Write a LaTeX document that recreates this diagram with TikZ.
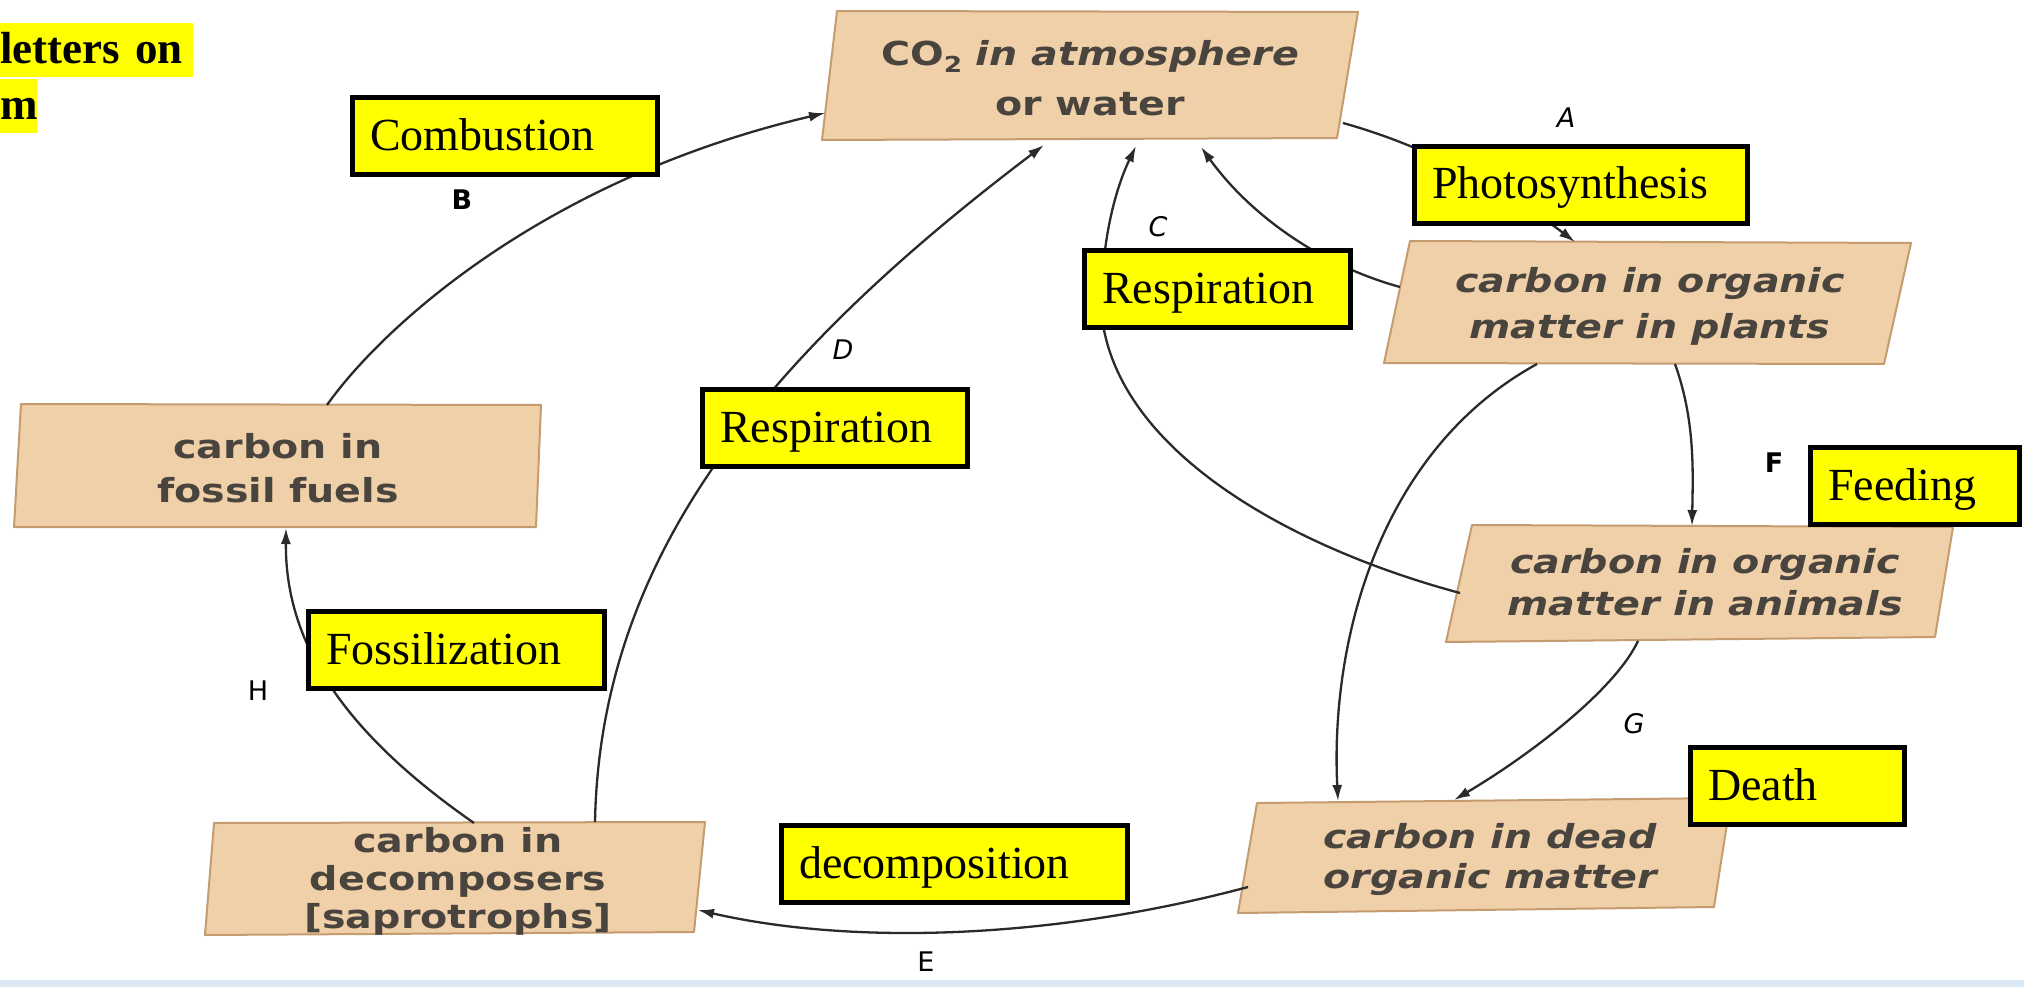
\documentclass[tikz,border=0pt]{standalone}
\usepackage{fontspec}
\setmainfont{Liberation Serif}
\newfontfamily\boxfont[FakeStretch=1.2]{DejaVu Sans}
\newfontfamily\letfont{DejaVu Sans}
\usetikzlibrary{arrows.meta}
\definecolor{beige}{HTML}{F0D0A8}
\definecolor{beigeline}{HTML}{C49C70}
\definecolor{boxtext}{HTML}{4A443E}
\definecolor{hlyellow}{HTML}{FFFF00}
\definecolor{stripblue}{HTML}{DCE8F4}
\definecolor{edgecol}{HTML}{2A2A2A}
\newcommand\bxs{\rule[-10pt]{0pt}{36pt}}
\begin{document}
\begin{tikzpicture}[x=1pt,y=-1pt,
  beigebox/.style={fill=beige,draw=beigeline,line width=2pt,line join=round},
  btext/.style={text=boxtext,align=center,inner sep=0pt,anchor=north},
  edge/.style={draw=edgecol,line width=2.3pt,-{Latex[length=16pt,width=10pt]}},
  ylab/.style={draw=black,line width=5pt,fill=hlyellow,inner xsep=17.5pt,inner ysep=0pt,
    minimum height=77pt,text height=34pt,text depth=6pt,align=left,
    font=\fontsize{46}{50}\selectfont},
  letl/.style={text=black,inner sep=0pt,font=\letfont\fontsize{27}{30}\selectfont},
  hl/.style={fill=hlyellow,inner xsep=0pt,inner ysep=0pt,anchor=base west,align=left,
    text height=41pt,text depth=13pt,font=\bfseries\fontsize{45}{50}\selectfont}
]
\useasboundingbox (0,0) rectangle (2024,987);
\fill[white] (0,0) rectangle (2024,987);
\fill[stripblue] (0,980) rectangle (2024,987);

% beige boxes
\path[beigebox] (837,11) -- (1358,12) -- (1337,138) -- (822,140) -- cycle;
\path[beigebox] (1410,241) -- (1911,243) -- (1884,364) -- (1384,363) -- cycle;
\path[beigebox] (1472,525) -- (1953,527) -- (1935,637) -- (1446,642) -- cycle;
\path[beigebox] (1257,803) -- (1731,798) -- (1714,907) -- (1238,913) -- cycle;
\path[beigebox] (21,404) -- (541,405) -- (536,527) -- (14,527) -- cycle;
\path[beigebox] (214,823) -- (705,822) -- (694,932) -- (205,935) -- cycle;

% box texts
\node (co2) [btext,font=\boxfont\bfseries\fontsize{33}{50}\selectfont] at (1090,39)
  {\bxs CO\raisebox{-7pt}{\fontsize{22}{22}\selectfont 2} \itshape in atmosphere\\\bxs\upshape or water};
\node (plants) [btext,font=\boxfont\bfseries\itshape\fontsize{33}{46}\selectfont] at (1650,266)
  {\bxs carbon in organic\\\bxs matter in plants};
\node (animals) [btext,font=\boxfont\bfseries\itshape\fontsize{33}{42}\selectfont] at (1705,547)
  {\bxs carbon in organic\\\bxs matter in animals};
\node (dead) [btext,font=\boxfont\bfseries\itshape\fontsize{33}{40}\selectfont] at (1490,822)
  {\bxs carbon in dead\\\bxs organic matter};
\node (fossil) [btext,font=\boxfont\bfseries\fontsize{33}{44}\selectfont] at (278,432)
  {\bxs carbon in\\\bxs fossil fuels};
\node (decomp) [btext,font=\boxfont\bfseries\fontsize{33}{38}\selectfont] at (458,826)
  {\bxs carbon in\\\bxs decomposers\\\bxs [saprotrophs]};

% connector end points
\coordinate (co2L) at (825,113);
\coordinate (co2B1) at (1044,145);
\coordinate (co2B2) at (1136,146);
\coordinate (co2B3) at (1201,147);
\coordinate (co2R) at (1343,123);
\coordinate (plantsT) at (1575,242);
\coordinate (plantsL) at (1400,287);
\coordinate (plantsB1) at (1537,364);
\coordinate (plantsB2) at (1675,364);
\coordinate (animalsT) at (1692,526);
\coordinate (animalsL) at (1460,593);
\coordinate (animalsB) at (1638,641);
\coordinate (deadT1) at (1338,801);
\coordinate (deadT2) at (1454,800);
\coordinate (deadL) at (1248,887);
\coordinate (fossilT) at (327,405);
\coordinate (fossilB) at (286,528);
\coordinate (decT1) at (474,823);
\coordinate (decT2) at (595,822);
\coordinate (decR) at (698,910);

% connectors
\draw[edge] (fossilT) .. controls (380,330) and (540,180) .. (co2L);
\draw[edge] (decT2) .. controls (600,560) and (760,360) .. (co2B1);
\draw[edge] (animalsL) .. controls (1300,550) and (1130,460) .. (1104,330)
  .. controls (1097,270) and (1110,200) .. (co2B2);
\draw[edge] (plantsL) .. controls (1320,265) and (1250,215) .. (co2B3);
\draw[edge] (co2R) .. controls (1440,150) and (1520,200) .. (plantsT);
\draw[edge] (plantsB2) .. controls (1695,420) and (1693,470) .. (animalsT);
\draw[edge] (plantsB1) .. controls (1380,450) and (1330,640) .. (deadT1);
\draw[edge] (animalsB) .. controls (1615,690) and (1530,755) .. (deadT2);
\draw[edge] (deadL) .. controls (1050,940) and (850,945) .. (decR);
\draw[edge] (decT1) .. controls (340,730) and (285,640) .. (fossilB);

% yellow process labels
\node (comb) [ylab,text width=270pt] at (505,136.5) {Combustion};
\node (photo) [ylab,text width=298pt] at (1581,185) {Photosynthesis};
\node (respc) [ylab,text width=231pt] at (1217.5,289) {Respiration};
\node (respd) [ylab,text width=230pt] at (835,428) {Respiration};
\node (feed) [ylab,text width=174pt] at (1915,486) {Feeding};
\node (fossz) [ylab,text width=261pt] at (456.5,650) {Fossilization};
\node (death) [ylab,text width=179pt] at (1797.5,786) {Death};
\node (decn) [ylab,text width=311pt] at (954.5,864) {decomposition};

% letter labels
\node (lA) [letl,font=\letfont\itshape\fontsize{27}{30}\selectfont] at (1566,118) {A};
\node (lB) [letl,font=\letfont\bfseries\fontsize{27}{30}\selectfont] at (462,200) {B};
\node (lC) [letl,font=\letfont\itshape\fontsize{27}{30}\selectfont] at (1158,227) {C};
\node (lD) [letl,font=\letfont\itshape\fontsize{27}{30}\selectfont] at (843,350) {D};
\node (lE) [letl] at (926,962) {E};
\node (lF) [letl,font=\letfont\bfseries\fontsize{27}{30}\selectfont] at (1774,463) {F};
\node (lG) [letl,font=\letfont\itshape\fontsize{27}{30}\selectfont] at (1634,724) {G};
\node (lH) [letl] at (258,691) {H};

% top-left highlighted text
\node (hl1) [hl,text width=193pt] at (0,64) {letters on};
\node (hl2) [hl,text width=37pt] at (0,120) {m};
\end{tikzpicture}
\end{document}
